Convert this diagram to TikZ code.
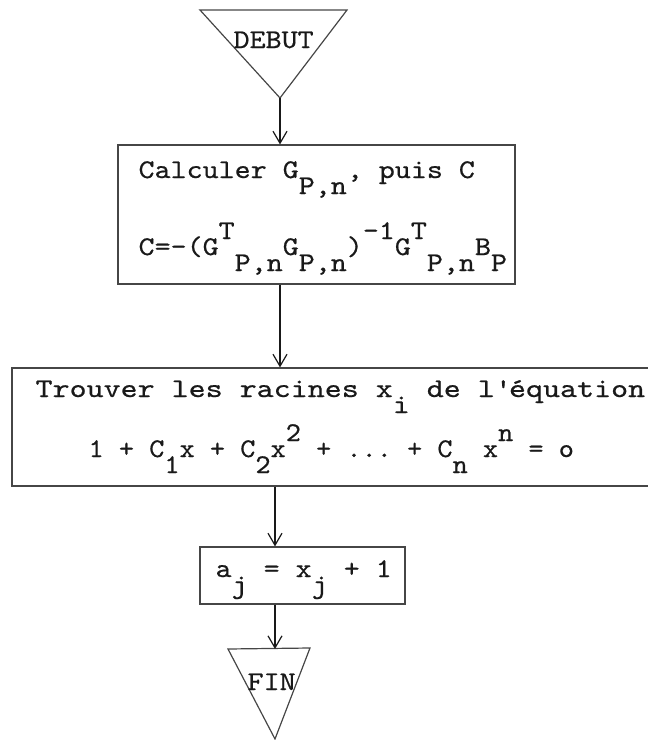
\documentclass[tikz,border=0pt]{standalone}
\usepackage{fontspec}
\newfontfamily\typewriter{lmmono10-regular.otf}[FakeStretch=1.13,FakeBold=0.6]
\newfontfamily\typewide{lmmono10-regular.otf}[FakeStretch=1.2,FakeBold=0.6]
\newfontfamily\typenarrow{lmmono10-regular.otf}[FakeStretch=1.07,FakeBold=0.6]
\usetikzlibrary{arrows.meta,fit}
\definecolor{ink}{RGB}{25,25,25}
\definecolor{rulegray}{RGB}{70,70,70}
\tikzset{>={Straight Barb[length=6pt,width=7pt]}}
\newcommand{\typeup}[1]{\raisebox{8pt}{#1}}
\newcommand{\typedn}[1]{\raisebox{-8pt}{#1}}
\frenchspacing

\begin{document}
\begin{tikzpicture}[x=0.5pt,y=-0.5pt,line width=0.6pt,
    procbox/.style={draw=rulegray,inner sep=0pt},
    typetext/.style={ink,inner sep=0pt,anchor=base west,
      font=\typewriter\fontsize{13.5}{16}\selectfont},
    flow/.style={->,ink}]
  \useasboundingbox (0,0) rectangle (648,740);

  % Start terminal
  \coordinate (debutL) at (200,10);
  \coordinate (debutR) at (347,10);
  \coordinate (debut) at (280,98);
  \draw[rulegray] (debutL) -- (debutR) -- (debut) -- cycle;
  \node[typetext] (debuttxt) at (233,48) {DEBUT};

  % Compute G and C
  \node[procbox,fit={(118,145) (515,284)}] (calc) {};
  \node[typetext] (calcA) at (138,178)
    {Calculer G\typedn{P,n}, puis C};
  \node[typetext] (calcB) at (138,255)
    {C=-(G\typeup{T}\typedn{P,n}G\typedn{P,n})\typeup{-1}G\typeup{T}\typedn{P,n}B\typedn{P}};

  % Roots of the polynomial
  \node[procbox,fit={(12,368) (662,486)}] (roots) {};
  \node[typetext,font=\typewide\fontsize{13.5}{16}\selectfont] (rootsA) at (35,397)
    {Trouver les racines x\typedn{i} de l\textquotesingle équation};
  \node[typetext,font=\typenarrow\fontsize{13.5}{16}\selectfont] (rootsB) at (88,457)
    {1 + C\typedn{1}x + C\typedn{2}x\typeup{2} + ... + C\typedn{n} x\typeup{n} = o};

  % a_j
  \node[procbox,fit={(200,547) (405,604)}] (ajbox) {};
  \node[typetext] (ajtxt) at (215,577) {a\typedn{j} = x\typedn{j} + 1};

  % End terminal
  \coordinate (finL) at (228,649);
  \coordinate (finR) at (310,648);
  \coordinate (fin) at (275,739);
  \draw[rulegray] (finL) -- (finR) -- (fin) -- cycle;
  \node[typetext] (fintxt) at (247,690) {FIN};

  % Flow
  \draw[flow] (debut) -- (debut |- calc.north);
  \draw[flow] (debut |- calc.south) -- (debut |- roots.north);
  \draw[flow] (fin |- roots.south) -- (fin |- ajbox.north);
  \draw[flow] (fin |- ajbox.south) -- (fin |- finL);
\end{tikzpicture}
\end{document}
